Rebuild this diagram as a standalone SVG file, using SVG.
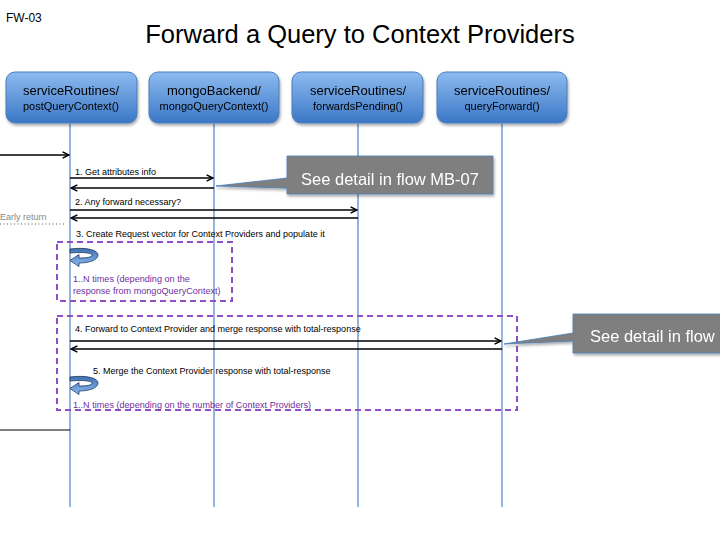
<svg xmlns="http://www.w3.org/2000/svg" width="720" height="540" viewBox="0 0 720 540">
<defs>
<linearGradient id="gBox" x1="0" y1="0" x2="0" y2="1">
<stop offset="0" stop-color="#8dbbf0"/>
<stop offset="1" stop-color="#3b77c6"/>
</linearGradient>
<linearGradient id="gLoop" x1="0" y1="0" x2="0" y2="1">
<stop offset="0" stop-color="#3d6fb0"/>
<stop offset="1" stop-color="#8fbef0"/>
</linearGradient>
<filter id="sh" x="-10%" y="-10%" width="130%" height="140%">
<feGaussianBlur in="SourceAlpha" stdDeviation="1.5"/>
<feOffset dx="1" dy="2" result="b"/>
<feComponentTransfer><feFuncA type="linear" slope="0.35"/></feComponentTransfer>
<feMerge><feMergeNode/><feMergeNode in="SourceGraphic"/></feMerge>
</filter>
<marker id="ah" viewBox="0 0 10 10" refX="9" refY="5" markerWidth="8" markerHeight="8" markerUnits="userSpaceOnUse" orient="auto">
<path d="M1,1 L9,5 L1,9" fill="none" stroke="#000" stroke-width="1.8"/>
</marker>
</defs>
<style>
text{font-family:"Liberation Sans",Arial,sans-serif}
.box{fill:url(#gBox);stroke:#4a7ebb;stroke-width:1}
.t1{font-size:13px;fill:#000;text-anchor:middle}
.t2{font-size:11px;fill:#000;text-anchor:middle}
.life{stroke:#6f9bd1;stroke-width:1.5}
.msg{stroke:#000;stroke-width:1.3;fill:none}
.lbl{font-size:9px;fill:#000}
.pl{font-size:9.1px;fill:#7030a0}
.loopbox{fill:none;stroke:#8e4fc4;stroke-width:2;stroke-dasharray:6,4}
.call{fill:#7f7f7f;stroke:#4a7ebb;stroke-width:0.8}
.ct{font-size:16.5px;fill:#fff}
.loop{fill:url(#gLoop);stroke:#1f3864;stroke-width:0.8}
</style>
<rect width="720" height="540" fill="#fff"/>
<text x="6" y="22" style="font-size:12px">FW-03</text>
<text x="360" y="43" style="font-size:25.5px;text-anchor:middle">Forward a Query to Context Providers</text>

<g id="lifelines">
<line class="life" x1="70" y1="124" x2="70" y2="507"/>
<line class="life" x1="214" y1="124" x2="214" y2="507"/>
<line class="life" x1="358" y1="124" x2="358" y2="507"/>
<line class="life" x1="502" y1="124" x2="502" y2="507"/>
</g>

<g id="n1" filter="url(#sh)"><rect class="box" x="6" y="72" width="131" height="51" rx="9"/>
<text class="t1" x="71" y="95">serviceRoutines/</text><text class="t2" x="71" y="110">postQueryContext()</text></g>
<g id="n2" filter="url(#sh)"><rect class="box" x="149" y="72" width="130" height="51" rx="9"/>
<text class="t1" x="214" y="95">mongoBackend/</text><text class="t2" x="214" y="110">mongoQueryContext()</text></g>
<g id="n3" filter="url(#sh)"><rect class="box" x="292" y="72" width="131" height="51" rx="9"/>
<text class="t1" x="358" y="95">serviceRoutines/</text><text class="t2" x="358" y="110">forwardsPending()</text></g>
<g id="n4" filter="url(#sh)"><rect class="box" x="437" y="72" width="130" height="51" rx="9"/>
<text class="t1" x="502" y="95">serviceRoutines/</text><text class="t2" x="502" y="110">queryForward()</text></g>

<g id="loops">
<rect class="loopbox" x="57" y="242" width="175" height="59"/>
<rect class="loopbox" x="57" y="316" width="460" height="94"/>
<path class="loop" d="M70,249 C86,247 98,250 98,255 C98,260 89,263 79,263 L79,266.5 L70,260.5 L79,254.5 L79,258 C87,258 92,257 92,255.5 C92,252.5 83,252 70,253 Z"/>
<path class="loop" d="M70,377 C86,375 98,378 98,383 C98,388 89,391 79,391 L79,394.5 L70,388.5 L79,382.5 L79,386 C87,386 92,385 92,383.5 C92,380.5 83,380 70,381 Z"/>
<text class="pl" x="73" y="282">1..N times (depending on the</text>
<text class="pl" x="73" y="294">response from mongoQueryContext)</text>
<text class="pl" x="73" y="408">1..N times (depending on the number of Context Providers)</text>
</g>

<g id="connectors">
<line class="msg" x1="0" y1="155" x2="69" y2="155" marker-end="url(#ah)"/>
<line class="msg" x1="70" y1="178" x2="213" y2="178" marker-end="url(#ah)"/>
<line class="msg" x1="214" y1="188" x2="71" y2="188" marker-end="url(#ah)"/>
<line class="msg" x1="70" y1="210" x2="357" y2="210" marker-end="url(#ah)"/>
<line class="msg" x1="358" y1="218" x2="71" y2="218" marker-end="url(#ah)"/>
<line x1="0" y1="224" x2="66" y2="224" stroke="#555" stroke-width="1" stroke-dasharray="1,2.5"/>
<line class="msg" x1="70" y1="341" x2="501" y2="341" marker-end="url(#ah)"/>
<line class="msg" x1="502" y1="349" x2="71" y2="349" marker-end="url(#ah)"/>
<line x1="0" y1="430" x2="70" y2="430" stroke="#000" stroke-width="1"/>
<text class="lbl" x="75" y="175">1. Get attributes info</text>
<text class="lbl" x="75" y="205">2. Any forward necessary?</text>
<text x="0" y="220" style="font-size:9px;fill:#888">Early return</text>
<text class="lbl" x="76" y="237">3. Create Request vector for Context Providers and populate it</text>
<text class="lbl" x="75" y="332">4. Forward to Context Provider and merge response with total-response</text>
<text class="lbl" x="93" y="374">5. Merge the Context Provider response with total-response</text>
</g>

<g id="callout1" filter="url(#sh)">
<path class="call" d="M287,156 L493,156 L493,194 L287,194 L287,188 L216,186 L287,178 Z"/>
<text class="ct" x="390" y="185" style="text-anchor:middle">See detail in flow MB-07</text>
</g>
<g id="callout2" filter="url(#sh)">
<path class="call" d="M573,314 L725,314 L725,353 L573,353 L573,341 L504,344 L573,333 Z"/>
<text class="ct" x="590" y="342">See detail in flow</text>
</g>
</svg>
